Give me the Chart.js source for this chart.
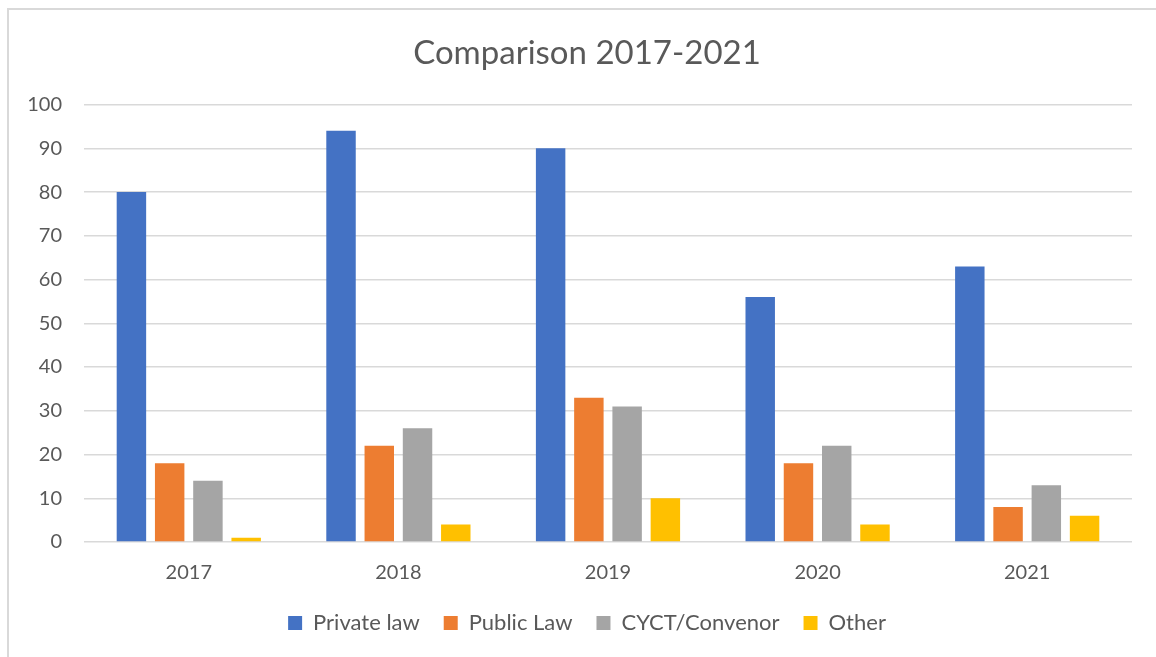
<!DOCTYPE html>
<html>
<head>
<meta charset="utf-8">
<script src="https://cdn.jsdelivr.net/npm/chart.js@4.4.1/dist/chart.umd.min.js"></script>
<style>
  html, body { margin: 0; padding: 0; background: #fff; overflow: hidden; }
  #frame { position: absolute; left: 7px; top: 8px; width: 1200px; height: 700px; border: 2px solid #d9d9d9; box-sizing: border-box; }
  #wrap { position: absolute; left: 0; top: 0; width: 1156px; height: 657px; }
</style>
</head>
<body>
<div id="frame"></div>
<div id="wrap"><canvas id="chart"></canvas></div>
<script>
// years on the x axis
const years = ['2017', '2018', '2019', '2020', '2021'];

// series values
const privateLaw = [80, 94, 90, 56, 63];
const publicLaw = [18, 22, 33, 18, 8];
const cyctConvenor = [14, 26, 31, 22, 13];
const other = [1, 4, 10, 4, 6];

const seriesNames = ['Private law', 'Public Law', 'CYCT/Convenor', 'Other'];
const seriesColors = ['#4472C4', '#ED7D31', '#A5A5A5', '#FFC000'];

const textColor = '#595959';
const fontFamily = 'Lato, "Open Sans", sans-serif';

// let the y labels spill left of the (narrow) axis box without being clipped
const unclipY = {
    id: 'unclipY',
    afterLayout(chart) {
        chart.scales.y.left = 0;
    }
};

const ctx = document.getElementById('chart').getContext('2d');

new Chart(ctx, {
    type: 'bar',
    data: {
        labels: years,
        datasets: [privateLaw, publicLaw, cyctConvenor, other].map((vals, i) => ({
            label: seriesNames[i],
            data: vals,
            backgroundColor: seriesColors[i],
            borderWidth: 0,
            categoryPercentage: 0.73,
            barPercentage: 0.77
        }))
    },
    plugins: [unclipY],
    options: {
        responsive: true,
        maintainAspectRatio: false,
        animation: false,
        layout: {
            padding: { left: 42, right: 24, top: 0, bottom: 13 }
        },
        plugins: {
            title: {
                display: true,
                text: 'Comparison 2017-2021',
                color: textColor,
                font: { family: fontFamily, size: 33, weight: 'normal' },
                padding: { top: 34, bottom: 31 }
            },
            legend: {
                position: 'bottom',
                labels: {
                    color: textColor,
                    font: { family: fontFamily, size: 22 },
                    boxWidth: 14,
                    boxHeight: 14,
                    padding: 24
                }
            },
            tooltip: { enabled: false }
        },
        scales: {
            x: {
                grid: { display: false },
                border: { display: false },
                ticks: {
                    color: textColor,
                    font: { family: fontFamily, size: 20 },
                    padding: 11
                },
                afterFit: (scale) => { scale.height = 46; }
            },
            y: {
                min: 0,
                max: 100,
                ticks: {
                    stepSize: 10,
                    color: textColor,
                    font: { family: fontFamily, size: 20 },
                    padding: 22
                },
                grid: {
                    color: '#d9d9d9',
                    lineWidth: 1.5,
                    drawTicks: false
                },
                border: { display: false },
                afterFit: (scale) => { scale.width = 42; }
            }
        }
    }
});
</script>
</body>
</html>
